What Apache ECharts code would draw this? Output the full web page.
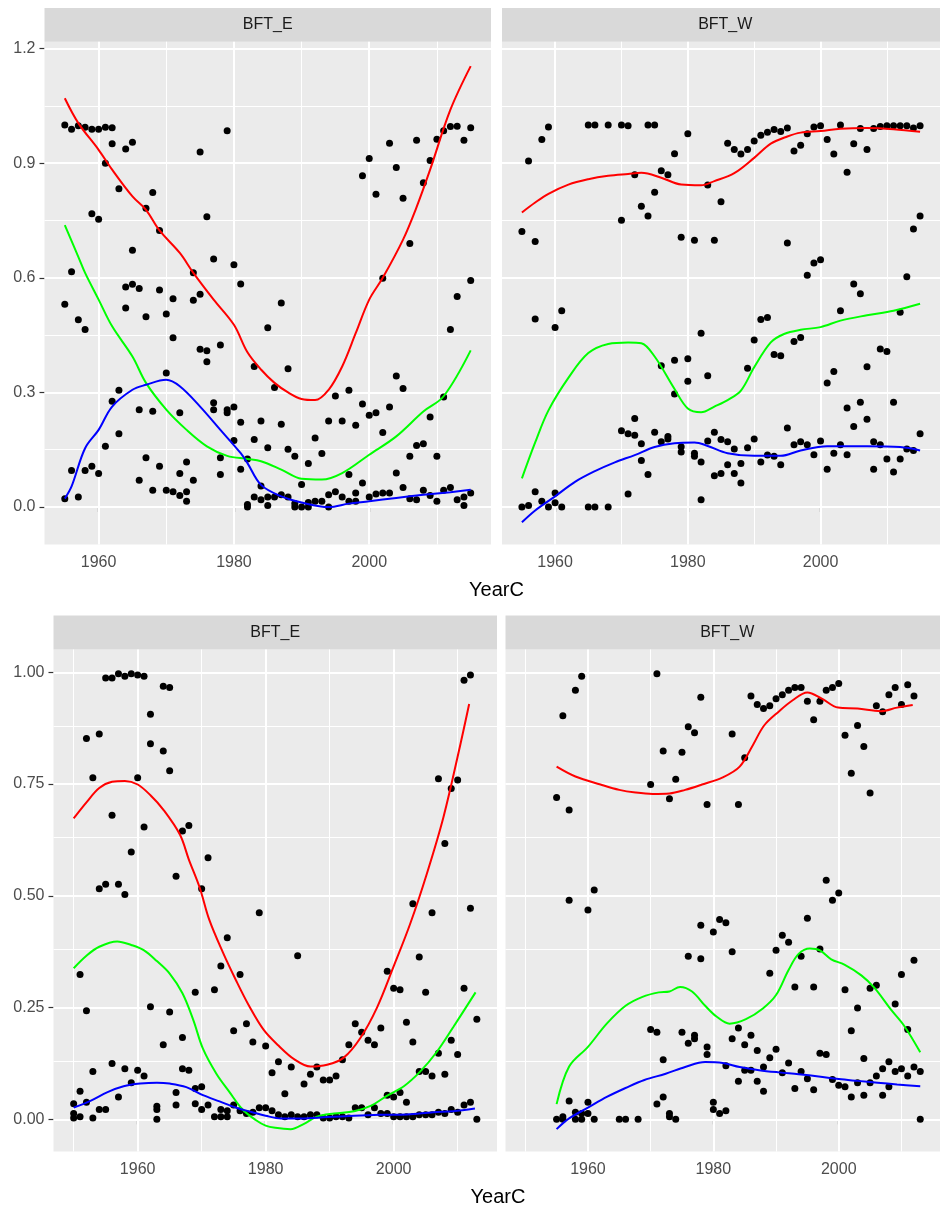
<!DOCTYPE html>
<html><head><meta charset="utf-8">
<script src="https://cdn.jsdelivr.net/npm/echarts@6/dist/echarts.min.js"></script>
<style>html,body{margin:0;padding:0;background:#fff}#c{width:940px;height:1209px}</style>
</head><body><div id="c"></div>
<script>
// ---------- data ----------
const panelNames = ['BFT_E', 'BFT_W'];
const xTickLabels = [1960, 1980, 2000];
const yTicksTop = [0, 0.3, 0.6, 0.9, 1.2];
const yTicksBottom = [0, 0.25, 0.5, 0.75, 1.0];

// top row, BFT_E: [year, [values...]]
const ptsTopE = [
[1955,[1.000,0.531,0.022]],[1956,[0.989,0.616,0.096]],[1957,[0.998,0.490,0.026]],[1958,[0.994,0.465,0.096]],
[1959,[0.989,0.768,0.107]],[1960,[0.989,0.753,0.088]],[1961,[0.994,0.900,0.159]],[1962,[0.993,0.951,0.277]],
[1963,[0.833,0.306,0.192]],[1964,[0.937,0.576,0.521]],[1965,[0.955,0.672,0.583]],[1966,[0.572,0.255,0.070]],
[1967,[0.782,0.498,0.129]],[1968,[0.823,0.251,0.044]],[1969,[0.724,0.568,0.107]],[1970,[0.505,0.351,0.044]],
[1971,[0.545,0.443,0.040]],[1972,[0.247,0.088,0.030]],[1973,[0.118,0.040,0.015]],[1974,[0.613,0.541,0.070]],
[1975,[0.929,0.557,0.413]],[1976,[0.760,0.409,0.380]],[1977,[0.649,0.273,0.255]],[1978,[0.424,0.129,0.085]],
[1979,[0.985,0.247,0.255]],[1980,[0.634,0.262,0.174]],[1981,[0.584,0.222,0.099]],[1982,[0.126,0.007,0.000]],
[1983,[0.368,0.177,0.026]],[1984,[0.225,0.055,0.019]],[1985,[0.469,0.155,0.026,0.004]],[1986,[0.313,0.026]],
[1987,[0.534,0.217,0.032]],[1988,[0.362,0.151,0.026]],[1989,[0.133,0.009,0.000]],[1990,[0.059,0.000]],
[1991,[0.114,0.012,0.000]],[1992,[0.181,0.015]],[1993,[0.140,0.015]],[1994,[0.225,0.032,0.000]],
[1995,[0.291,0.040]],[1996,[0.225,0.026]],[1997,[0.306,0.085,0.015]],[1998,[0.214,0.037,0.015]],
[1999,[0.867,0.270,0.063]],[2000,[0.912,0.240,0.026]],[2001,[0.819,0.247,0.034]],[2002,[0.599,0.195,0.037]],
[2003,[0.952,0.262,0.037]],[2004,[0.889,0.343,0.089]],[2005,[0.808,0.310,0.051]],[2006,[0.690,0.133,0.022]],
[2007,[0.960,0.161,0.019]],[2008,[0.849,0.166,0.044]],[2009,[0.907,0.236,0.030]],[2010,[0.963,0.133,0.015]],
[2011,[0.985,0.288,0.044]],[2012,[0.996,0.465,0.051]],[2013,[0.997,0.551,0.019]],[2014,[0.960,0.026,0.004]],
[2015,[0.993,0.593,0.037]]
];
const redTopE = [[1955,1.07],[1957,1.005],[1960,0.935],[1962,0.883],[1965,0.813],[1967,0.778],[1969,0.724],[1972,0.665],[1974,0.613],[1977,0.543],[1980,0.477],[1982,0.405],[1984,0.36],[1986,0.325],[1988,0.30],[1990,0.283],[1992,0.280],[1994,0.307],[1996,0.368],[1998,0.455],[2000,0.543],[2002,0.60],[2005,0.70],[2007,0.785],[2009,0.883],[2012,1.04],[2015,1.154]];
const greenTopE = [[1955,0.738],[1957,0.655],[1958,0.613],[1960,0.543],[1962,0.473],[1965,0.394],[1967,0.325],[1970,0.255],[1973,0.202],[1976,0.159],[1979,0.134],[1982,0.126],[1984,0.120],[1987,0.098],[1990,0.074],[1993,0.072],[1996,0.089],[2000,0.137],[2004,0.185],[2008,0.250],[2011,0.290],[2015,0.41]];
const blueTopE = [[1955,0.022],[1956,0.054],[1958,0.154],[1960,0.202],[1962,0.263],[1965,0.307],[1967,0.320],[1970,0.333],[1972,0.316],[1975,0.263],[1978,0.202],[1981,0.141],[1982,0.115],[1984,0.058],[1987,0.028],[1990,0.012],[1994,0.0],[1997,0.009],[2000,0.015],[2004,0.024],[2008,0.032],[2012,0.039],[2015,0.045]];

// top row, BFT_W
const ptsTopW = [
[1955,[0.721,0.000]],[1956,[0.906,0.004]],[1957,[0.695,0.492,0.040]],[1958,[0.962,0.015]],[1959,[0.995,0.000]],
[1960,[0.470,0.037,0.011]],[1961,[0.514,0.000]],[1965,[1.000,0.000]],[1966,[1.000,0.000]],[1968,[1.000,0.000]],
[1970,[1.000,0.751,0.200]],[1971,[0.998,0.192,0.034]],[1972,[0.870,0.232,0.188]],[1973,[0.787,0.166,0.122]],
[1974,[1.000,0.762,0.085]],[1975,[1.000,0.824,0.196]],[1976,[0.880,0.370,0.171]],[1977,[0.870,0.185,0.178]],
[1978,[0.925,0.384,0.296]],[1979,[0.706,0.158,0.144]],[1980,[0.977,0.388,0.329]],[1981,[0.698,0.141,0.133]],
[1982,[0.455,0.118,0.019]],[1983,[0.843,0.344,0.173]],[1984,[0.698,0.196,0.082]],[1985,[0.799,0.177,0.088]],
[1986,[0.952,0.171,0.111]],[1987,[0.936,0.152,0.088]],[1988,[0.924,0.114,0.063]],[1989,[0.936,0.363,0.155]],
[1990,[0.958,0.437,0.178]],[1991,[0.973,0.491,0.118]],[1992,[0.981,0.496,0.136]],[1993,[0.988,0.399,0.133]],
[1994,[0.983,0.396,0.111]],[1995,[0.992,0.691,0.207]],[1996,[0.932,0.433,0.163]],[1997,[0.947,0.444,0.171]],
[1998,[0.977,0.607,0.163]],[1999,[0.995,0.639,0.137]],[2000,[0.998,0.647,0.173]],[2001,[0.962,0.325,0.099]],
[2002,[0.924,0.355,0.141]],[2003,[1.000,0.514,0.163]],[2004,[0.876,0.259,0.137]],[2005,[0.951,0.584,0.211]],
[2006,[0.991,0.558,0.274]],[2007,[0.936,0.367,0.230]],[2008,[0.991,0.171,0.099]],[2009,[0.996,0.414,0.163]],
[2010,[0.998,0.407,0.126]],[2011,[0.998,0.274,0.092]],[2012,[0.998,0.510,0.126]],[2013,[0.998,0.603,0.152]],
[2014,[0.992,0.728,0.148]],[2015,[0.998,0.762,0.192]]
];
const redTopW = [[1955,0.771],[1957,0.797],[1959,0.820],[1962,0.844],[1965,0.858],[1968,0.867],[1971,0.872],[1973,0.875],[1976,0.862],[1979,0.844],[1982,0.842],[1984,0.853],[1987,0.874],[1990,0.914],[1992.5,0.951],[1995,0.970],[1997,0.98],[2000,0.984],[2003,0.99],[2007,0.992],[2011,0.989],[2015,0.982]];
const greenTopW = [[1955,0.075],[1957,0.169],[1959,0.253],[1962,0.338],[1965,0.403],[1968,0.427],[1971,0.431],[1973,0.429],[1975,0.394],[1978,0.309],[1980,0.258],[1982,0.248],[1984,0.263],[1986,0.28],[1988,0.305],[1990,0.366],[1992.5,0.431],[1994.5,0.453],[1997,0.464],[2000,0.471],[2003,0.488],[2007,0.502],[2011,0.514],[2015,0.532]];
const blueTopW = [[1955,-0.040],[1957,-0.009],[1960,0.028],[1963,0.066],[1966,0.094],[1969,0.117],[1972,0.136],[1975,0.157],[1978,0.167],[1981,0.169],[1983,0.160],[1986,0.141],[1990,0.134],[1994,0.134],[1997,0.148],[2001,0.159],[2007,0.159],[2012,0.157],[2015,0.148]];

// bottom row, BFT_E
const ptsBotE = [
[1950,[0.035,0.013,0.003]],[1951,[0.324,0.063,0.006]],[1952,[0.852,0.243,0.038]],[1953,[0.764,0.107,0.003]],
[1954,[0.862,0.516,0.022]],[1955,[0.987,0.526,0.022]],[1956,[0.987,0.680,0.125]],[1957,[0.997,0.526,0.050]],
[1958,[0.991,0.503,0.113]],[1959,[0.997,0.598,0.082]],[1960,[0.994,0.764,0.110]],[1961,[0.991,0.654,0.097]],
[1962,[0.906,0.840,0.252]],[1963,[0.029,0.022,0.000]],[1964,[0.969,0.824,0.167]],[1965,[0.966,0.780,0.240]],
[1966,[0.544,0.060,0.032]],[1967,[0.645,0.183,0.113]],[1968,[0.657,0.110]],[1969,[0.284,0.069,0.035]],
[1970,[0.516,0.073,0.022]],[1971,[0.585,0.032]],[1972,[0.290,0.006]],[1973,[0.343,0.022,0.006]],
[1974,[0.406,0.019,0.006]],[1975,[0.198,0.032]],[1976,[0.324,0.019]],[1977,[0.214,0.013]],
[1978,[0.173,0.016]],[1979,[0.462,0.026]],[1980,[0.164,0.026]],[1981,[0.104,0.019]],
[1982,[0.129,0.010]],[1983,[0.057,0.006]],[1984,[0.117,0.010]],[1985,[0.366,0.006]],
[1986,[0.079,0.006]],[1987,[0.101,0.010]],[1988,[0.117,0.010]],[1989,[0.088,0.003]],
[1990,[0.088,0.003]],[1991,[0.097,0.006]],[1992,[0.133,0.006]],[1993,[0.167,0.003]],
[1994,[0.214,0.026]],[1995,[0.195,0.026]],[1996,[0.177,0.010]],[1997,[0.167,0.026]],
[1998,[0.204,0.013]],[1999,[0.331,0.054,0.013]],[2000,[0.293,0.050,0.006]],[2001,[0.290,0.060,0.006]],
[2002,[0.217,0.038,0.006]],[2003,[0.482,0.173,0.006]],[2004,[0.363,0.107,0.010]],[2005,[0.284,0.107,0.010]],
[2006,[0.462,0.097,0.010]],[2007,[0.762,0.148,0.016]],[2008,[0.617,0.101,0.013]],[2009,[0.740,0.177,0.022]],
[2010,[0.759,0.145,0.016]],[2011,[0.982,0.293,0.032]],[2012,[0.994,0.472,0.038]],[2013,[0.224,0.000]]
];
const redBotE = [[1950,0.673],[1952,0.709],[1954,0.741],[1956,0.755],[1958,0.757],[1960,0.749],[1962,0.725],[1964,0.693],[1966.6,0.637],[1968,0.581],[1969.7,0.518],[1971.2,0.446],[1973.3,0.374],[1975.4,0.310],[1977.4,0.254],[1979.7,0.200],[1982,0.165],[1984.5,0.134],[1987,0.118],[1989.6,0.122],[1992.2,0.138],[1994.8,0.182],[1997.4,0.250],[2000,0.342],[2002.6,0.438],[2005.2,0.550],[2007.8,0.677],[2010.4,0.837],[2011.8,0.929]];
const greenBotE = [[1950,0.338],[1952,0.366],[1954,0.386],[1956.8,0.398],[1959,0.390],[1961,0.378],[1963,0.354],[1965,0.326],[1967,0.282],[1968.7,0.222],[1970.2,0.158],[1972.3,0.102],[1974.3,0.062],[1976.4,0.022],[1978.5,-0.002],[1980,-0.014],[1981.5,-0.019],[1983.9,-0.022],[1986,-0.010],[1988,0.006],[1990.7,0.013],[1993.8,0.018],[1996.4,0.030],[1999,0.053],[2001.6,0.074],[2004.1,0.106],[2006.7,0.150],[2009.3,0.206],[2012.8,0.284]];
const blueBotE = [[1950,0.026],[1952.7,0.042],[1955.3,0.061],[1957.8,0.074],[1960.4,0.080],[1963,0.082],[1965,0.080],[1967.6,0.072],[1970.2,0.054],[1972.8,0.040],[1975.4,0.026],[1977.9,0.016],[1980,0.008],[1982.4,0.002],[1985.5,0.002],[1989.6,0.005],[1993.8,0.008],[1997.9,0.010],[2002.1,0.011],[2006.2,0.016],[2009.3,0.018],[2012.7,0.024]];

// bottom row, BFT_W
const ptsBotW = [
[1955,[0.720,0.000]],[1956,[0.903,0.006,0.000]],[1957,[0.692,0.490,0.041]],[1958,[0.960,0.016,0.000]],
[1959,[0.991,0.013,0.000]],[1960,[0.468,0.038,0.013]],[1961,[0.513,0.000]],[1965,[0.000]],[1966,[0.000]],[1968,[0.000]],
[1970,[0.749,0.201]],[1971,[0.997,0.195,0.034]],[1972,[0.824,0.133,0.050]],[1973,[0.717,0.013,0.006]],
[1974,[0.761,0.000]],[1975,[0.821,0.195]],[1976,[0.878,0.365,0.170]],[1977,[0.865,0.188,0.180]],
[1978,[0.944,0.434,0.359]],[1979,[0.704,0.162,0.145]],[1980,[0.419,0.038,0.022]],[1981,[0.447,0.013]],
[1982,[0.440,0.120,0.019]],[1983,[0.862,0.375,0.180]],[1984,[0.704,0.204,0.085]],[1985,[0.809,0.167,0.110]],
[1986,[0.947,0.188,0.110]],[1987,[0.928,0.154,0.085]],[1988,[0.919,0.117,0.063]],[1989,[0.925,0.327,0.138]],
[1990,[0.941,0.378,0.157]],[1991,[0.950,0.412,0.104]],[1992,[0.960,0.396,0.126]],[1993,[0.966,0.296,0.069]],
[1994,[0.966,0.365,0.107]],[1995,[0.935,0.450,0.091]],[1996,[0.894,0.296,0.066]],[1997,[0.935,0.381,0.148]],
[1998,[0.960,0.535,0.145]],[1999,[0.966,0.490,0.089]],[2000,[0.975,0.506,0.076]],[2001,[0.859,0.290,0.073]],
[2002,[0.774,0.198,0.050]],[2003,[0.881,0.249,0.082]],[2004,[0.834,0.136,0.054]],[2005,[0.730,0.293,0.082]],
[2006,[0.925,0.300,0.097]],[2007,[0.912,0.113,0.054]],[2008,[0.950,0.129,0.073]],[2009,[0.966,0.258,0.107]],
[2010,[0.928,0.324,0.113]],[2011,[0.972,0.201,0.097]],[2012,[0.947,0.356,0.117]],[2013,[0.107,0.000]]
];
const redBotW = [[1955,0.789],[1958,0.767],[1962,0.749],[1965,0.737],[1967.6,0.731],[1970.3,0.728],[1973,0.729],[1975.5,0.737],[1978.2,0.749],[1981.5,0.765],[1984.2,0.789],[1986.3,0.837],[1988.1,0.881],[1990.5,0.913],[1992.6,0.937],[1995,0.955],[1997.3,0.941],[1999.9,0.921],[2003,0.919],[2006.7,0.913],[2009.3,0.921],[2011.8,0.927]];
const greenBotW = [[1955,0.034],[1957,0.118],[1960,0.162],[1963,0.214],[1966,0.254],[1968.7,0.274],[1971.3,0.284],[1973,0.286],[1974.7,0.296],[1976.6,0.286],[1978.7,0.254],[1980.5,0.230],[1982.6,0.214],[1985.2,0.224],[1987.9,0.248],[1990,0.278],[1992,0.334],[1993.6,0.370],[1995.4,0.382],[1997,0.378],[1998.8,0.358],[2000.9,0.346],[2003.6,0.322],[2005.7,0.294],[2008.3,0.246],[2010.4,0.210],[2013,0.150]];
const blueBotW = [[1955,-0.022],[1957,0.002],[1960,0.026],[1963,0.050],[1966,0.070],[1969,0.088],[1972.4,0.102],[1975.5,0.117],[1978.7,0.128],[1981.5,0.126],[1984.2,0.117],[1987.3,0.110],[1990.5,0.105],[1993.6,0.101],[1996.8,0.096],[2000,0.090],[2003,0.086],[2006.2,0.082],[2009.3,0.078],[2013,0.074]];

// ---------- build chart ----------
const FONT = '"Liberation Sans", Arial, sans-serif';
const expand = g => { const out = []; g.forEach(([yr, vals]) => vals.forEach(v => out.push([yr, v]))); return out; };

const panels = [
  {grid:{left:44.5, top:41.7, width:446.5, height:502.8}, x:[1952,2018], y:[-0.098,1.218], yt:yTicksTop, yDec:1, yLab:true,
   xMinor:[1970,1990,2010], yMinor:[0.15,0.45,0.75,1.05], pts:ptsTopE, r:redTopE, g:greenTopE, b:blueTopE},
  {grid:{left:502, top:41.7, width:446.5, height:502.8}, x:[1952,2018], y:[-0.098,1.218], yt:yTicksTop, yDec:1, yLab:false,
   xMinor:[1970,1990,2010], yMinor:[0.15,0.45,0.75,1.05], pts:ptsTopW, r:redTopW, g:greenTopW, b:blueTopW},
  {grid:{left:53.5, top:649.5, width:443.5, height:502}, x:[1946.85,2016.15], y:[-0.072,1.051], yt:yTicksBottom, yDec:2, yLab:true,
   xMinor:[1950,1970,1990,2010], yMinor:[0.125,0.375,0.625,0.875], pts:ptsBotE, r:redBotE, g:greenBotE, b:blueBotE},
  {grid:{left:505.5, top:649.5, width:443.5, height:502}, x:[1946.85,2016.15], y:[-0.072,1.051], yt:yTicksBottom, yDec:2, yLab:false,
   xMinor:[1950,1970,1990,2010], yMinor:[0.125,0.375,0.625,0.875], pts:ptsBotW, r:redBotW, g:greenBotW, b:blueBotW}
];

const grids = [], xAxes = [], yAxes = [], series = [];
panels.forEach((p, i) => {
  grids.push(Object.assign({show:true, backgroundColor:'#EBEBEB', borderWidth:0, containLabel:false}, p.grid));
  xAxes.push({type:'value', gridIndex:i, min:p.x[0], max:p.x[1],
    axisLine:{show:false}, splitLine:{show:false},
    axisTick:{show:true, length:5, customValues:xTickLabels, lineStyle:{color:'#333333', width:1.2}},
    axisLabel:{show:true, customValues:xTickLabels, color:'#4D4D4D', fontSize:16, fontFamily:FONT, margin:10, formatter:v=>String(v)}});
  yAxes.push({type:'value', gridIndex:i, min:p.y[0], max:p.y[1],
    axisLine:{show:false}, splitLine:{show:false},
    axisTick:{show:p.yLab, length:5, customValues:p.yt, lineStyle:{color:'#333333', width:1.2}},
    axisLabel:{show:p.yLab, customValues:p.yt, color:'#4D4D4D', fontSize:16, fontFamily:FONT, margin:9, formatter:v=>v.toFixed(p.yDec)}});
  const gl = [];
  p.xMinor.forEach(v => gl.push({xAxis:v, lineStyle:{color:'#FFFFFF', width:1, type:'solid'}}));
  p.yMinor.forEach(v => gl.push({yAxis:v, lineStyle:{color:'#FFFFFF', width:1, type:'solid'}}));
  xTickLabels.forEach(v => gl.push({xAxis:v, lineStyle:{color:'#FFFFFF', width:2, type:'solid'}}));
  p.yt.forEach(v => gl.push({yAxis:v, lineStyle:{color:'#FFFFFF', width:2, type:'solid'}}));
  series.push({type:'scatter', xAxisIndex:i, yAxisIndex:i, data:expand(p.pts), symbol:'circle', symbolSize:7,
    itemStyle:{color:'#000000', opacity:1}, z:10, silent:true,
    markLine:{silent:true, z:1, symbol:['none','none'], label:{show:false}, animation:false, data:gl}});
  [[p.r,'#FF0000'],[p.g,'#00FF00'],[p.b,'#0000FF']].forEach(([d,c]) => {
    series.push({type:'line', xAxisIndex:i, yAxisIndex:i, data:d, smooth:0.35, showSymbol:false, symbol:'none',
      lineStyle:{color:c, width:2, opacity:1}, z:11, silent:true});
  });
});

const strip = (x, y, w, h, label) => [
  {type:'rect', shape:{x:x, y:y, width:w, height:h}, style:{fill:'#D9D9D9'}, silent:true},
  {type:'text', x:x + w/2, y:y + h/2, silent:true,
   style:{text:label, fill:'#1A1A1A', font:'16px ' + FONT, textAlign:'center', textVerticalAlign:'middle', verticalAlign:'middle'}}
];
const title = (x, y) => ({type:'text', x:x, y:y, silent:true,
  style:{text:'YearC', fill:'#000000', font:'20px ' + FONT, textAlign:'center', textVerticalAlign:'middle', verticalAlign:'middle'}});

const graphic = [].concat(
  strip(44.5, 8, 446.5, 33.7, panelNames[0]),
  strip(502, 8, 446.5, 33.7, panelNames[1]),
  strip(53.5, 615.4, 443.5, 34.1, panelNames[0]),
  strip(505.5, 615.4, 443.5, 34.1, panelNames[1]),
  [title(496.5, 590), title(498, 1197)]
);

const chart = echarts.init(document.getElementById('c'), null, {renderer:'canvas'});
chart.setOption({animation:false, backgroundColor:'#FFFFFF', grid:grids, xAxis:xAxes, yAxis:yAxes, series:series, graphic:graphic});
</script></body></html>
